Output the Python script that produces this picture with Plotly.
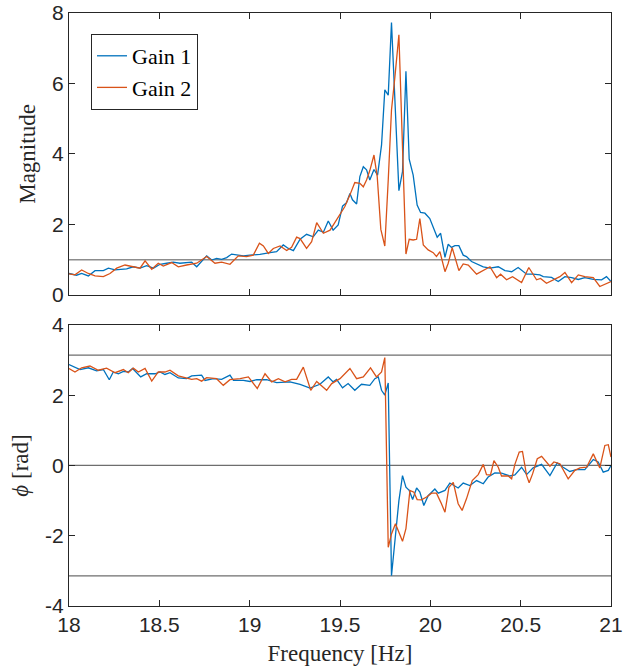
import plotly.graph_objects as go
import math

# ---------------- data ----------------
mag1_f = [18.000, 18.042, 18.070, 18.107, 18.144, 18.190, 18.218, 18.255, 18.319, 18.356,
          18.393, 18.430, 18.467, 18.504, 18.541, 18.577, 18.614, 18.651, 18.679, 18.707,
          18.762, 18.790, 18.817, 18.845, 18.873, 18.900, 18.928, 18.965, 19.002, 19.057,
          19.113, 19.149, 19.186, 19.214, 19.242, 19.279, 19.315, 19.352, 19.380, 19.408,
          19.435, 19.462, 19.490, 19.514, 19.536, 19.555, 19.569, 19.592, 19.610, 19.629,
          19.647, 19.665, 19.688, 19.708, 19.730, 19.748, 19.767, 19.785, 19.826, 19.846,
          19.865, 19.883, 19.905, 19.927, 19.946, 19.970, 19.997, 20.016, 20.038, 20.057,
          20.081, 20.099, 20.117, 20.136, 20.158, 20.182, 20.200, 20.228, 20.256, 20.293,
          20.330, 20.376, 20.413, 20.450, 20.486, 20.533, 20.569, 20.606, 20.625, 20.671,
          20.708, 20.745, 20.782, 20.819, 20.855, 20.902, 20.948, 20.975, 21.000]
mag1 = [0.61, 0.56, 0.61, 0.54, 0.69, 0.69, 0.76, 0.71, 0.74, 0.80,
        0.76, 0.83, 0.76, 0.87, 0.90, 0.93, 0.90, 0.92, 0.93, 0.80,
        1.11, 0.99, 1.04, 1.01, 1.06, 1.16, 1.13, 1.11, 1.13, 1.15,
        1.20, 1.23, 1.42, 1.32, 1.26, 1.58, 1.72, 1.65, 1.84, 1.78,
        2.10, 1.84, 1.99, 2.52, 2.62, 2.88, 2.70, 2.58, 3.36, 3.64,
        3.55, 3.26, 3.56, 3.40, 4.26, 5.82, 5.67, 7.73, 2.96, 3.50,
        6.35, 3.85, 3.40, 2.55, 2.34, 2.32, 2.17, 1.94, 1.64, 1.75,
        1.07, 1.44, 1.35, 1.40, 1.40, 1.13, 1.09, 0.95, 0.88, 0.80,
        0.76, 0.80, 0.69, 0.66, 0.78, 0.59, 0.59, 0.57, 0.52, 0.50,
        0.38, 0.52, 0.49, 0.44, 0.49, 0.44, 0.43, 0.52, 0.38]

mag2_f = [18.000, 18.033, 18.070, 18.107, 18.144, 18.190, 18.227, 18.264, 18.310, 18.356,
          18.393, 18.421, 18.458, 18.494, 18.522, 18.568, 18.605, 18.651, 18.707, 18.762,
          18.808, 18.845, 18.891, 18.937, 18.983, 19.020, 19.054, 19.076, 19.103, 19.131,
          19.168, 19.205, 19.232, 19.260, 19.279, 19.315, 19.343, 19.371, 19.408, 19.445,
          19.490, 19.527, 19.555, 19.582, 19.610, 19.629, 19.647, 19.665, 19.688, 19.706,
          19.726, 19.748, 19.767, 19.785, 19.804, 19.826, 19.865, 19.883, 19.905, 19.924,
          19.942, 19.961, 19.988, 20.016, 20.034, 20.053, 20.081, 20.099, 20.121, 20.136,
          20.158, 20.182, 20.210, 20.256, 20.293, 20.330, 20.367, 20.389, 20.422, 20.455,
          20.505, 20.545, 20.588, 20.610, 20.643, 20.684, 20.717, 20.745, 20.782, 20.819,
          20.855, 20.902, 20.938, 21.000]
mag2 = [0.60, 0.57, 0.71, 0.61, 0.54, 0.52, 0.61, 0.76, 0.85, 0.80,
        0.76, 0.97, 0.73, 0.90, 0.82, 0.92, 0.80, 0.85, 0.90, 1.09,
        0.90, 0.93, 0.87, 1.11, 1.09, 1.13, 1.47, 1.39, 1.18, 1.32,
        1.39, 1.26, 1.35, 1.64, 1.60, 1.32, 1.51, 2.05, 1.75, 1.84,
        2.22, 2.51, 2.84, 3.19, 3.17, 3.07, 3.26, 3.53, 3.97, 3.36,
        1.86, 1.39, 3.26, 5.25, 6.19, 7.38, 1.16, 1.58, 1.56, 1.58,
        2.17, 1.42, 1.28, 1.20, 1.09, 1.23, 0.66, 0.90, 1.34, 1.09,
        0.69, 0.88, 0.85, 0.59, 0.69, 0.80, 0.49, 0.59, 0.43, 0.52,
        0.35, 0.78, 0.43, 0.47, 0.33, 0.44, 0.52, 0.64, 0.35, 0.57,
        0.52, 0.49, 0.24, 0.38]

ph1_f = [18.000, 18.061, 18.107, 18.153, 18.190, 18.223, 18.245, 18.273, 18.301, 18.328,
         18.352, 18.397, 18.430, 18.476, 18.504, 18.531, 18.559, 18.605, 18.651, 18.679,
         18.734, 18.753, 18.799, 18.845, 18.891, 18.910, 18.965, 19.002, 19.039, 19.094,
         19.149, 19.223, 19.279, 19.334, 19.389, 19.435, 19.462, 19.481, 19.514, 19.545,
         19.582, 19.619, 19.665, 19.693, 19.712, 19.730, 19.748, 19.767, 19.785, 19.804,
         19.826, 19.846, 19.865, 19.883, 19.902, 19.924, 19.942, 19.964, 19.988, 20.025,
         20.044, 20.081, 20.108, 20.154, 20.182, 20.219, 20.256, 20.293, 20.320, 20.357,
         20.394, 20.440, 20.468, 20.505, 20.533, 20.569, 20.616, 20.662, 20.702, 20.735,
         20.772, 20.809, 20.855, 20.902, 20.929, 20.957, 20.985, 21.000]
ph1 = [2.87, 2.73, 2.78, 2.69, 2.73, 2.44, 2.66, 2.61, 2.68, 2.66,
       2.76, 2.52, 2.61, 2.61, 2.66, 2.59, 2.64, 2.49, 2.47, 2.55,
       2.57, 2.42, 2.47, 2.45, 2.57, 2.42, 2.42, 2.39, 2.44, 2.44,
       2.36, 2.38, 2.31, 2.20, 2.31, 2.52, 2.38, 2.45, 2.21, 2.33,
       2.14, 2.31, 2.28, 2.47, 2.52, 2.14, 2.00, 2.35, -3.14, -2.04,
       -1.00, -0.29, -0.62, -0.71, -0.97, -0.64, -0.76, -1.14, -0.86, -0.67,
       -0.79, -0.71, -0.50, -0.64, -0.50, -0.57, -0.43, -0.52, -0.33, -0.21,
       -0.22, -0.30, -0.27, -0.05, -0.26, -0.07, 0.03, -0.29, 0.07, -0.05,
       -0.17, -0.12, -0.12, 0.17, 0.10, -0.19, -0.14, 0.00]

ph2_f = [18.000, 18.033, 18.070, 18.116, 18.162, 18.208, 18.255, 18.301, 18.328, 18.356,
         18.384, 18.421, 18.458, 18.494, 18.531, 18.559, 18.605, 18.642, 18.679, 18.707,
         18.734, 18.762, 18.817, 18.854, 18.891, 18.947, 18.993, 19.042, 19.085, 19.122,
         19.159, 19.196, 19.232, 19.260, 19.297, 19.338, 19.371, 19.426, 19.454, 19.500,
         19.555, 19.592, 19.629, 19.669, 19.702, 19.730, 19.748, 19.767, 19.785, 19.807,
         19.826, 19.846, 19.865, 19.887, 19.909, 19.927, 19.951, 19.979, 20.007, 20.034,
         20.058, 20.081, 20.103, 20.127, 20.154, 20.176, 20.200, 20.232, 20.265, 20.293,
         20.311, 20.333, 20.352, 20.376, 20.394, 20.431, 20.450, 20.468, 20.492, 20.510,
         20.533, 20.547, 20.566, 20.592, 20.616, 20.662, 20.684, 20.717, 20.763, 20.800,
         20.828, 20.865, 20.902, 20.938, 20.966, 20.985, 21.000]
ph2 = [2.76, 2.66, 2.78, 2.83, 2.71, 2.77, 2.64, 2.73, 2.64, 2.77,
       2.66, 2.76, 2.40, 2.66, 2.66, 2.71, 2.55, 2.50, 2.45, 2.47,
       2.40, 2.50, 2.47, 2.28, 2.44, 2.47, 2.52, 2.19, 2.61, 2.38,
       2.47, 2.38, 2.45, 2.45, 2.80, 2.14, 2.39, 2.14, 2.33, 2.47,
       2.76, 2.47, 2.52, 2.78, 2.52, 2.66, 3.07, -2.33, -1.95, -1.66,
       -1.90, -2.16, -1.80, -0.71, -0.76, -0.97, -0.98, -0.90, -0.79, -0.79,
       -1.05, -1.33, -0.62, -0.48, -1.09, -1.28, -0.95, -0.43, -0.26, 0.03,
       -0.26, -0.27, 0.14, -0.05, -0.30, -0.30, -0.38, 0.03, 0.38, 0.40,
       -0.29, -0.49, -0.24, 0.19, 0.26, -0.02, 0.10, 0.05, -0.38, -0.14,
       -0.07, -0.05, 0.33, -0.07, 0.57, 0.59, 0.24]

series_names = ["Gain 1", "Gain 2"]
mag_ref = [1]
phase_ref = [0, math.pi, -math.pi]

x_ticks = [18, 18.5, 19, 19.5, 20, 20.5, 21]
x_ticklabels = ["18", "18.5", "19", "19.5", "20", "20.5", "21"]
mag_ticks = [0, 2, 4, 6, 8]
ph_ticks = [-4, -2, 0, 2, 4]
ph_ticklabels = ["-4", "-2", "0", "2", "4"]

# ---------------- styling ----------------
C1 = "#0072BD"
C2 = "#D95319"
AX = "#262626"
SANS = "Liberation Sans, Arial, sans-serif"
SERIF = "Liberation Serif, Times New Roman, serif"

fig = go.Figure()
fig.add_trace(go.Scatter(x=mag1_f, y=mag1, mode="lines", name=series_names[0],
                         line=dict(color=C1, width=1.3), xaxis="x", yaxis="y"))
fig.add_trace(go.Scatter(x=mag2_f, y=mag2, mode="lines", name=series_names[1],
                         line=dict(color=C2, width=1.3), xaxis="x", yaxis="y"))
fig.add_trace(go.Scatter(x=ph1_f, y=ph1, mode="lines", showlegend=False,
                         line=dict(color=C1, width=1.3), xaxis="x2", yaxis="y2"))
fig.add_trace(go.Scatter(x=ph2_f, y=ph2, mode="lines", showlegend=False,
                         line=dict(color=C2, width=1.3), xaxis="x2", yaxis="y2"))

shapes = []
for v in mag_ref:
    shapes.append(dict(type="line", xref="x domain", yref="y", x0=0, x1=1, y0=v, y1=v,
                       line=dict(color="#8c8c8c", width=1.5), layer="below"))
for v in phase_ref:
    shapes.append(dict(type="line", xref="x2 domain", yref="y2", x0=0, x1=1, y0=v, y1=v,
                       line=dict(color="#6e6e6e", width=1.2), layer="below"))

common_x = dict(range=[18, 21], tickvals=x_ticks, ticks="inside", ticklen=6, tickwidth=1,
                tickcolor=AX, showline=True, linecolor=AX, linewidth=1, mirror="ticks",
                showgrid=False, zeroline=False, automargin=False,
                tickfont=dict(family=SANS, size=21, color=AX))
common_y = dict(ticks="inside", ticklen=6, tickwidth=1, tickcolor=AX, showline=True,
                linecolor=AX, linewidth=1, mirror="ticks", showgrid=False, zeroline=False,
                automargin=False,
                tickfont=dict(family=SANS, size=21, color=AX))

fig.update_layout(
    width=629, height=668,
    margin=dict(l=69, r=18, t=13, b=62, autoexpand=False),
    paper_bgcolor="white", plot_bgcolor="white",
    showlegend=True,
    xaxis=dict(common_x, domain=[0, 1], anchor="y", showticklabels=False),
    yaxis=dict(common_y, domain=[0.5245, 1], anchor="x", range=[0, 8], tickvals=mag_ticks,
               title=dict(text="Magnitude", font=dict(family=SERIF, size=23, color=AX),
                          standoff=10)),
    xaxis2=dict(common_x, domain=[0, 1], anchor="y2", ticktext=x_ticklabels,
                title=dict(text="Frequency [Hz]", font=dict(family=SERIF, size=23, color=AX),
                           standoff=9)),
    yaxis2=dict(common_y, domain=[0, 0.474], anchor="x2", range=[-4, 4], tickvals=ph_ticks,
                ticktext=ph_ticklabels,
                title=dict(text="<i>ϕ</i> [rad]", font=dict(family=SERIF, size=23, color=AX),
                           standoff=10)),
    legend=dict(x=0.0406, y=0.9646, xanchor="left", yanchor="top",
                bgcolor="white", bordercolor=AX, borderwidth=1,
                font=dict(family=SERIF, size=22, color="black"),
                itemwidth=30, tracegroupgap=0),
    shapes=shapes,
)

fig.write_html("out.html")
